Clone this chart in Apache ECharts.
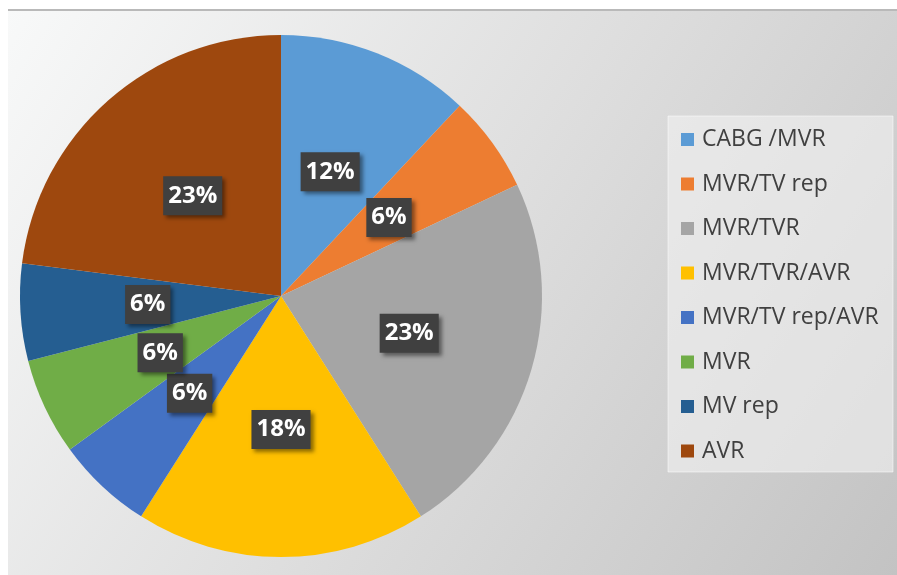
<!DOCTYPE html>
<html>
<head>
<meta charset="utf-8">
<script src="https://cdn.jsdelivr.net/npm/echarts@6/dist/echarts.min.js"></script>
<style>
html,body{margin:0;padding:0;background:#fff;}
#main{width:897px;height:575px;}
</style>
</head>
<body>
<div id="main"></div>
<script>
var categories = ['CABG /MVR', 'MVR/TV rep', 'MVR/TVR', 'MVR/TVR/AVR', 'MVR/TV rep/AVR', 'MVR', 'MV rep', 'AVR'];
var percentValues = [12, 6, 23, 18, 6, 6, 6, 23];
var sliceColors = ['#5B9BD5', '#ED7D31', '#A5A5A5', '#FFC000', '#4472C4', '#70AD47', '#255E91', '#9E480E'];

var chart = echarts.init(document.getElementById('main'), null, {renderer: 'canvas'});
var data = categories.map(function (c, i) {
  return {name: c, value: percentValues[i], itemStyle: {color: sliceColors[i]}};
});
chart.setOption({
  backgroundColor: '#ffffff',
  animation: false,
  graphic: [
    {type: 'rect', z: -10, shape: {x: 8, y: 10, width: 889, height: 565},
     style: {fill: new echarts.graphic.LinearGradient(0, 0, 1, 1, [
       {offset: 0, color: '#f8f9f9'}, {offset: 0.5, color: '#dedede'}, {offset: 1, color: '#c3c3c3'}])}},
    {type: 'rect', z: -9, shape: {x: 8, y: 9, width: 889, height: 2}, style: {fill: '#b9b9b9'}},
    {type: 'rect', z: -8, shape: {x: 668, y: 116, width: 225, height: 356},
     style: {fill: 'rgba(242,242,242,0.6)', stroke: 'rgba(255,255,255,0.5)', lineWidth: 1}}
  ],
  legend: {
    orient: 'vertical',
    left: 681,
    top: 128,
    padding: 0,
    itemWidth: 13,
    itemHeight: 13,
    itemGap: 21.5,
    icon: 'rect',
    textStyle: {fontFamily: 'Open Sans', fontSize: 23, color: '#404040', lineHeight: 22, padding: [0, 0, 0, 3]},
    data: categories
  },
  series: [{
    type: 'pie',
    center: [281, 296],
    radius: [0, 261],
    startAngle: 90,
    clockwise: true,
    avoidLabelOverlap: false,
    itemStyle: {borderWidth: 0},
    label: {
      show: true,
      position: 'inside',
      formatter: '{c}%',
      fontFamily: 'Open Sans',
      fontWeight: 'bold',
      fontSize: 24,
      color: '#ffffff',
      backgroundColor: '#404040',
      padding: [8, 5, 7, 5],
      shadowColor: 'rgba(0,0,0,0.45)',
      shadowBlur: 4,
      shadowOffsetX: 3,
      shadowOffsetY: 3
    },
    labelLine: {show: false},
    emphasis: {disabled: true},
    data: data
  }]
});
</script>
</body>
</html>
